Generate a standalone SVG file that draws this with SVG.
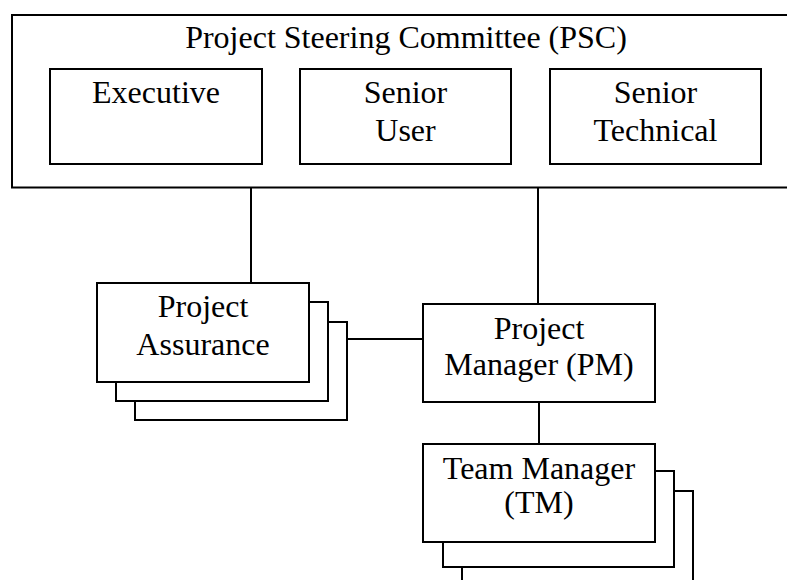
<svg xmlns="http://www.w3.org/2000/svg" width="787" height="580" viewBox="0 0 787 580">
<style>
.b{fill:#fff;stroke:#000;stroke-width:2}
.l{fill:none;stroke:#000;stroke-width:2}
text{font-family:"Liberation Serif","Times New Roman",serif;font-size:32px;fill:#000;text-anchor:middle}
</style>
<rect width="787" height="580" fill="#fff"/>
<g id="connectors">
<line class="l" x1="251" y1="188" x2="251" y2="283"/>
<line class="l" x1="538" y1="188" x2="538" y2="304"/>
<line class="l" x1="347" y1="339" x2="422" y2="339"/>
<line class="l" x1="539" y1="402" x2="539" y2="444"/>
</g>
<g id="psc">
<rect class="b" x="12" y="15" width="790" height="172.5"/>
<text x="406" y="48">Project Steering Committee (PSC)</text>
</g>
<g id="executive">
<rect class="b" x="50" y="69" width="212" height="95"/>
<text x="156" y="103">Executive</text>
</g>
<g id="senior-user">
<rect class="b" x="300" y="69" width="211" height="95"/>
<text x="405.5" y="103">Senior</text>
<text x="405.5" y="141">User</text>
</g>
<g id="senior-technical">
<rect class="b" x="550" y="69" width="211" height="95"/>
<text x="655.5" y="103">Senior</text>
<text x="655.5" y="141">Technical</text>
</g>
<g id="project-assurance">
<rect class="b" x="135" y="322" width="212" height="98"/>
<rect class="b" x="116" y="302" width="212" height="99"/>
<rect class="b" x="97" y="283" width="212" height="99"/>
<text x="203" y="317">Project</text>
<text x="203" y="355">Assurance</text>
</g>
<g id="project-manager">
<rect class="b" x="423" y="304" width="232" height="98"/>
<text x="539" y="339">Project</text>
<text x="539" y="375">Manager (PM)</text>
</g>
<g id="team-manager">
<rect class="b" x="462" y="491" width="231" height="110"/>
<rect class="b" x="443" y="471" width="231" height="96"/>
<rect class="b" x="423" y="444" width="232" height="98"/>
<text x="539" y="479">Team Manager</text>
<text x="539" y="513">(TM)</text>
</g>
</svg>
